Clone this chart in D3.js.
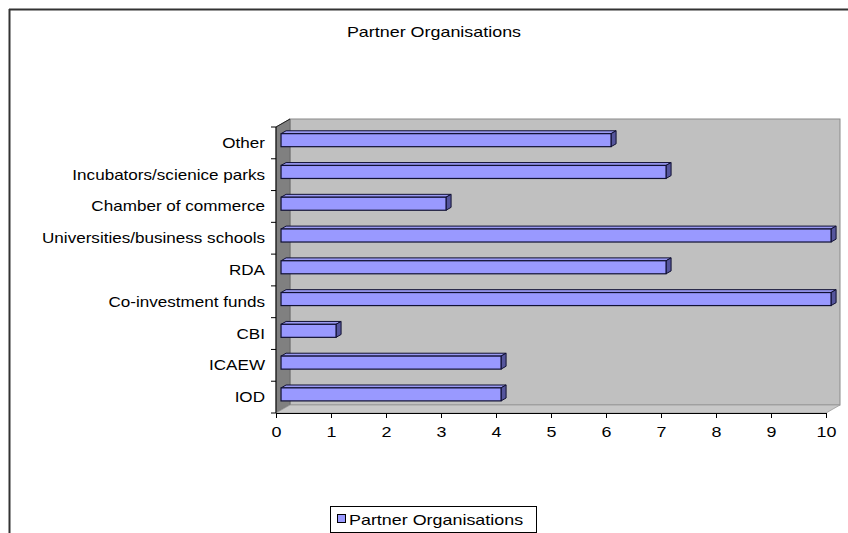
<!DOCTYPE html>
<html>
<head>
<meta charset="utf-8">
<script src="https://cdn.jsdelivr.net/npm/d3@7"></script>
<style>
  html, body { margin: 0; padding: 0; background: #fff; }
  svg { display: block; }
  text { font-family: "Liberation Sans", Arial, sans-serif; fill: #000; }
</style>
</head>
<body>
<svg id="chart" width="848" height="533"></svg>
<script>
// ---- data ----
const categories = ["IOD", "ICAEW", "CBI", "Co-investment funds", "RDA",
  "Universities/business schools", "Chamber of commerce", "Incubators/scienice parks", "Other"];
const values = [4, 4, 1, 10, 7, 10, 3, 7, 6];
const xTicks = [0, 1, 2, 3, 4, 5, 6, 7, 8, 9, 10];
const chartTitle = "Partner Organisations";
const seriesName = "Partner Organisations";

// ---- layout ----
const svg = d3.select("#chart");
const SX = 1.28;            // horizontal stretch of text in the original
const SXC = 1.22;           // stretch for category labels
const FS = 14;
const plot = { left: 276, right: 826, top: 127, bottom: 413 };
const depth = { dx: 14, dy: -8 };
const barFront = 0.36, barBack = 0.72;

const x = d3.scaleLinear().domain([0, 10]).range([plot.left, plot.right]);
const y = d3.scaleBand().domain(categories).range([plot.bottom, plot.top]).padding(0);
const step = y.step();

// frame
svg.append("line").attr("x1", 9).attr("x2", 848).attr("y1", 9.5).attr("y2", 9.5)
  .attr("stroke", "#333").attr("stroke-width", 2);
svg.append("line").attr("x1", 9.5).attr("x2", 9.5).attr("y1", 9).attr("y2", 533)
  .attr("stroke", "#333").attr("stroke-width", 2);

// title
svg.append("text").attr("transform", `translate(434,37) scale(${SX},1)`)
  .attr("text-anchor", "middle").attr("font-size", FS).text(chartTitle);

// walls
const L = plot.left, R = plot.right, T = plot.top, B = plot.bottom, dx = depth.dx, dy = depth.dy;
svg.append("rect").attr("x", L + dx).attr("y", T + dy).attr("width", R - L).attr("height", B - T)
  .attr("fill", "#c0c0c0").attr("stroke", "#8a8a8a").attr("stroke-width", 1);
svg.append("polygon").attr("points", [[L, T], [L + dx, T + dy], [L + dx, B + dy], [L, B]].join(" "))
  .attr("fill", "#808080").attr("stroke", "#666").attr("stroke-width", 0.8);
svg.append("polygon").attr("points", [[L, B], [L + dx, B + dy], [R + dx, B + dy], [R, B]].join(" "))
  .attr("fill", "#c8c8c8").attr("stroke", "#9a9a9a").attr("stroke-width", 0.8);
svg.append("line").attr("x1", L).attr("y1", T).attr("x2", L + dx).attr("y2", T + dy)
  .attr("stroke", "#222").attr("stroke-width", 1);

// bars
const f1x = dx * barFront, f1y = dy * barFront;
const ddx = dx * (barBack - barFront), ddy = dy * (barBack - barFront);
const barH = step * 0.41;
const data = categories.map((c, i) => ({ c, v: values[i] }));
const bars = svg.append("g").selectAll("g").data(data.slice().reverse()).join("g");
bars.each(function (d) {
  const g = d3.select(this);
  const x0 = x(0) + f1x, x1 = x(d.v) + f1x;
  const yt = y(d.c) + step * 0.3 + f1y, yb = yt + barH;
  g.append("polygon").attr("points", [[x0, yt], [x0 + ddx, yt + ddy], [x1 + ddx, yt + ddy], [x1, yt]].join(" "))
    .attr("fill", "#9a9af2").attr("stroke", "#111133").attr("stroke-width", 1).attr("stroke-linejoin", "round");
  g.append("polygon").attr("points", [[x1, yt], [x1 + ddx, yt + ddy], [x1 + ddx, yb + ddy], [x1, yb]].join(" "))
    .attr("fill", "#55559c").attr("stroke", "#111133").attr("stroke-width", 1).attr("stroke-linejoin", "round");
  g.append("rect").attr("x", x0).attr("y", yt).attr("width", x1 - x0).attr("height", barH)
    .attr("fill", "#9999ff").attr("stroke", "#111133").attr("stroke-width", 1.2);
});

// y axis
svg.append("line").attr("x1", L).attr("x2", L).attr("y1", T).attr("y2", B).attr("stroke", "#000");
const bounds = categories.map(c => y(c)).concat([plot.bottom]);
svg.append("g").selectAll("line").data(bounds).join("line")
  .attr("x1", L - 5).attr("x2", L).attr("y1", d => d).attr("y2", d => d).attr("stroke", "#000");
svg.append("g").selectAll("text").data(categories).join("text")
  .attr("transform", d => `translate(265,${y(d) + step / 2}) scale(${SXC},1)`)
  .attr("dy", "0.36em").attr("text-anchor", "end").attr("font-size", FS).text(d => d);

// x axis
const xAxis = d3.axisBottom(x).tickValues(xTicks).tickSize(5).tickSizeOuter(0).tickFormat(d3.format("d"));
const gx = svg.append("g").attr("transform", `translate(0,${B})`).call(xAxis);
gx.select(".domain").attr("stroke", "#000");
gx.selectAll(".tick line").attr("stroke", "#000");
gx.selectAll(".tick text").attr("font-size", FS).attr("font-family", "Liberation Sans, Arial, sans-serif")
  .attr("fill", "#000").attr("y", 0).attr("dy", 0)
  .attr("transform", `translate(0,24) scale(${SX},1)`);

// legend
const lg = svg.append("g");
lg.append("rect").attr("x", 330.5).attr("y", 506.5).attr("width", 206).attr("height", 26)
  .attr("fill", "#fff").attr("stroke", "#000");
lg.append("rect").attr("x", 337.5).attr("y", 514.5).attr("width", 8).attr("height", 8)
  .attr("fill", "#9999ff").attr("stroke", "#000");
lg.append("text").attr("transform", `translate(349,524.5) scale(${SX},1)`)
  .attr("font-size", FS).text(seriesName);
</script>
</body>
</html>
